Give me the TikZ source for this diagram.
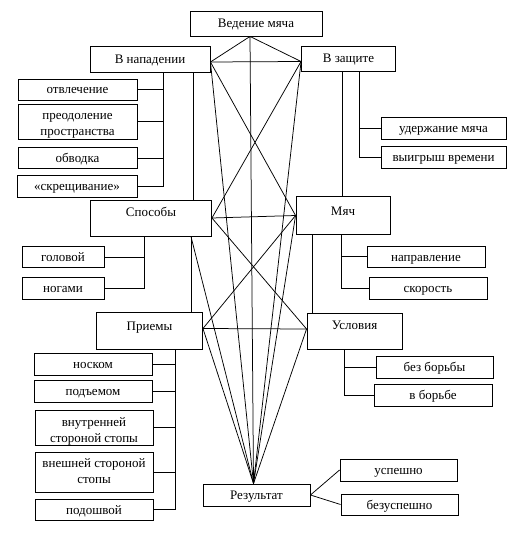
\documentclass[tikz,border=0pt]{standalone}
\usepackage{fontspec}
\setmainfont{Liberation Serif}
\tikzset{
  box/.style={draw, line width=0.9pt, align=center, inner sep=2pt, text height=9pt, text depth=0pt, font=\fontsize{13}{15.5}\selectfont},
  tall/.style={inner ysep=0pt},
  link/.style={line width=0.75pt},
}

\begin{document}
\begin{tikzpicture}[x=1pt, y=-1pt]
\useasboundingbox (0,0) rectangle (510,537);

\node[box, minimum width=132pt, minimum height=25pt] (vedenie) at (256,23.5) {Ведение мяча};
\node[box, minimum width=120pt, minimum height=26pt] (napad) at (150,59) {В нападении};
\node[box, minimum width=94pt, minimum height=25pt] (zashita) at (348.5,58.5) {В защите};

\node[box, minimum width=119pt, minimum height=21pt] (otvlech) at (77.5,89.5) {отвлечение};
\node[box, minimum width=119pt, text height=29.5pt, text depth=1.5pt] (preodol) at (77.5,121.5) {преодоление\\пространства};
\node[box, minimum width=119pt, minimum height=21pt] (obvodka) at (77.5,158) {обводка};
\node[box, minimum width=120pt, minimum height=22pt] (skresh) at (77,186.5) {«скрещивание»};

\node[box, minimum width=125pt, minimum height=22pt] (uderzh) at (443.5,128) {удержание мяча};
\node[box, minimum width=125pt, minimum height=22pt] (vyigr) at (443.5,157.5) {выигрыш времени};

\node[box, tall, minimum width=121pt, text height=16pt, text depth=20pt] (sposoby) at (151,218) {Способы};
\node[box, tall, minimum width=94pt, text height=19pt, text depth=19pt] (myach) at (343,215.5) {Мяч};

\node[box, minimum width=82pt, minimum height=21pt] (golovoy) at (63,257) {головой};
\node[box, minimum width=82pt, minimum height=22pt] (nogami) at (63,288) {ногами};
\node[box, minimum width=118pt, minimum height=21pt] (napravl) at (426,256.5) {направление};
\node[box, minimum width=118pt, minimum height=22pt] (skorost) at (428,288) {скорость};

\node[box, tall, minimum width=106pt, text height=18pt, text depth=19pt] (priemy) at (149.5,330.5) {Приемы};
\node[box, tall, minimum width=95pt, text height=16pt, text depth=20pt] (usloviya) at (354.5,331) {Условия};

\node[box, minimum width=118pt, minimum height=22pt] (noskom) at (93,364) {носком};
\node[box, minimum width=118pt, minimum height=22pt] (podemom) at (93,391) {подъемом};
\node[box, minimum width=118pt, text height=30pt, text depth=1pt] (vnutr) at (94,427.5) {внутренней\\стороной стопы};
\node[box, minimum width=118pt, text height=29pt, text depth=7pt] (vnesh) at (94,472) {внешней стороной\\стопы};
\node[box, minimum width=118pt, minimum height=21pt] (podoshvoy) at (94,509.5) {подошвой};

\node[box, minimum width=117pt, minimum height=22pt] (bezb) at (434.5,367) {без борьбы};
\node[box, minimum width=118pt, minimum height=22pt] (vb) at (433,395) {в борьбе};

\node[box, minimum width=107pt, minimum height=22pt] (rezultat) at (256.5,495) {Результат};
\node[box, minimum width=117pt, minimum height=22pt] (uspeshno) at (398.5,470) {успешно};
\node[box, minimum width=117pt, minimum height=21pt] (bezusp) at (399.5,504.5) {безуспешно};

% points where the net meets the boxes
\coordinate (v) at ([xshift=-6pt]vedenie.south);
\coordinate (a) at ([yshift=-3pt]napad.east);
\coordinate (b) at ([yshift=-3pt]zashita.west);
\coordinate (c) at (sposoby.east);
\coordinate (c2) at ([xshift=-21pt]sposoby.south east);
\coordinate (d) at (myach.west);
\coordinate (e) at ([yshift=2pt]priemy.east);
\coordinate (f) at ([yshift=2pt]usloviya.west);
\coordinate (r) at ([xshift=-3pt]rezultat.north);

\draw[link] (v) -- (a) (v) -- (b) (v) -- (r);
\draw[link] (a) -- (b) (c) -- (d) (e) -- (f);
\draw[link] (a) -- (d) (b) -- (c) (c) -- (f) (d) -- (e);
\foreach \p in {a,b,c2,d,e,f}
  \draw[link] (\p) -- (r);

% В нападении
\coordinate (t1) at ([xshift=13pt]napad.south);
\draw[link] (t1) |- (skresh.east);
\foreach \n in {otvlech,preodol,obvodka}
  \draw[link] (\n.east) -- (\n.east -| t1);
\draw[link] ([xshift=43pt]napad.south) -- ([xshift=43pt]napad.south |- sposoby.north);

% В защите
\coordinate (t2) at ([xshift=10.5pt]zashita.south);
\draw[link] (t2) |- (vyigr.west);
\draw[link] (uderzh.west) -- (uderzh.west -| t2);
\draw[link] ([xshift=-6.5pt]zashita.south) -- ([xshift=-6.5pt]zashita.south |- myach.north);

% Способы
\coordinate (t3) at ([xshift=-7pt]sposoby.south);
\draw[link] (t3) |- (nogami.east);
\draw[link] (golovoy.east) -- (golovoy.east -| t3);
\draw[link] (c2) -- (c2 |- priemy.north);

% Мяч
\coordinate (t4) at ([xshift=-2pt]myach.south);
\draw[link] (t4) |- (skorost.west);
\draw[link] (napravl.west) -- (napravl.west -| t4);
\draw[link] ([xshift=-31pt]myach.south) -- ([xshift=-31pt]myach.south |- usloviya.north);

% Приемы
\coordinate (t5) at ([xshift=26pt]priemy.south);
\draw[link] (t5) |- (podoshvoy.east);
\foreach \n in {noskom,podemom,vnutr,vnesh}
  \draw[link] (\n.east) -- (\n.east -| t5);

% Условия
\coordinate (t6) at ([xshift=-10pt]usloviya.south);
\draw[link] (t6) |- (vb.west);
\draw[link] (bezb.west) -- (bezb.west -| t6);

% Результат
\draw[link] (rezultat.east) -- (uspeshno.west) (rezultat.east) -- (bezusp.west);
\end{tikzpicture}
\end{document}
